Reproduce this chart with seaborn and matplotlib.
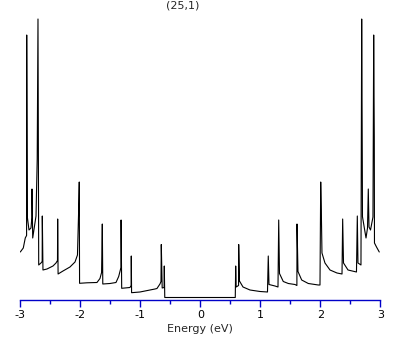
"""Density of states of a (25,1) nanotube, redrawn with seaborn."""

import matplotlib
matplotlib.use("Agg")
import matplotlib.pyplot as plt
import numpy as np
import pandas as pd
import seaborn as sns
from matplotlib.ticker import MultipleLocator

# values (arbitrary DOS units)
energy_neg = [-3.000, -2.950, -2.917, -2.895, -2.893, -2.883, -2.855, -2.822,
              -2.807, -2.805, -2.793, -2.738, -2.718, -2.705, -2.693, -2.655,
              -2.635, -2.633, -2.622, -2.555, -2.455, -2.405, -2.380, -2.377,
              -2.370, -2.288, -2.172, -2.088, -2.047, -2.027, -2.017, -2.012,
              -1.888, -1.722, -1.672, -1.645, -1.633, -1.625, -1.505, -1.405,
              -1.360, -1.322, -1.320, -1.310, -1.172, -1.152, -1.150, -1.145,
              -1.005, -0.838, -0.755, -0.722, -0.672, -0.655, -0.650, -0.635,
              -0.603, -0.600, -0.592]
dos_neg = [0.455, 0.495, 0.595, 0.620, 2.625, 0.808, 0.675, 0.695,
           0.800, 1.085, 0.595, 0.815, 1.385, 2.785, 0.325, 0.345,
           0.360, 0.815, 0.275, 0.285, 0.315, 0.345, 0.370, 0.785,
           0.235, 0.265, 0.305, 0.355, 0.425, 0.875, 1.155, 0.142,
           0.147, 0.150, 0.190, 0.250, 0.735, 0.135, 0.140, 0.150,
           0.210, 0.300, 0.775, 0.092, 0.100, 0.120, 0.415, 0.048,
           0.055, 0.075, 0.085, 0.090, 0.135, 0.160, 0.530, 0.095,
           0.100, 0.315, 0.000]

energy_pos = [0.583, 0.590, 0.598, 0.638, 0.640, 0.653, 0.712, 0.828,
              0.995, 1.120, 1.133, 1.145, 1.245, 1.295, 1.307, 1.320,
              1.383, 1.467, 1.578, 1.610, 1.612, 1.628, 1.690, 1.800,
              1.967, 1.995, 2.007, 2.017, 2.028, 2.078, 2.162, 2.278,
              2.362, 2.373, 2.387, 2.462, 2.603, 2.617, 2.628, 2.678,
              2.690, 2.700, 2.703, 2.762, 2.787, 2.800, 2.812, 2.837,
              2.878, 2.890, 2.900, 2.903, 2.937, 2.983]
dos_pos = [0.000, 0.315, 0.105, 0.120, 0.530, 0.165, 0.105, 0.075,
           0.060, 0.055, 0.415, 0.130, 0.115, 0.105, 0.775, 0.240,
           0.160, 0.140, 0.130, 0.120, 0.735, 0.260, 0.175, 0.140,
           0.125, 0.125, 1.155, 0.875, 0.445, 0.345, 0.275, 0.245,
           0.235, 0.785, 0.345, 0.275, 0.255, 0.815, 0.345, 0.325,
           2.785, 1.385, 0.808, 0.595, 0.695, 1.085, 0.705, 0.675,
           0.805, 2.625, 1.605, 0.545, 0.505, 0.455]

title = "(25,1)"
xlabel = "Energy (eV)"
xticks = [-3, -2, -1, 0, 1, 2, 3]

df = pd.DataFrame({"energy": energy_neg + energy_pos,
                   "dos": dos_neg + dos_pos})

sns.set_theme(style="white")
plt.rcParams.update({"font.family": ["DejaVu Sans"], "axes.unicode_minus": False})

axis_blue = "#0000C8"

fig = plt.figure(figsize=(4.09, 3.45), dpi=100)
ax = fig.add_axes([0.0496, 0.129, 0.8802, 0.8275])

sns.lineplot(data=df, x="energy", y="dos", estimator=None, sort=False,
             color="black", lw=0.8, ax=ax)

ax.set_xlim(-3, 3)
ax.set_ylim(-0.03, 2.825)
ax.set_xticks(xticks)
ax.set_xticklabels([str(t) for t in xticks])
ax.xaxis.set_minor_locator(MultipleLocator(0.5))
ax.set_yticks([])
ax.set_ylabel("")
ax.set_xlabel(xlabel, fontsize=8, labelpad=3)

for side in ["left", "right", "top"]:
    ax.spines[side].set_visible(False)
ax.spines["bottom"].set_color(axis_blue)
ax.spines["bottom"].set_linewidth(1.0)

ax.tick_params(axis="x", which="major", direction="out", length=5, width=1,
               color=axis_blue, labelcolor="black", labelsize=8, pad=2, bottom=True)
ax.tick_params(axis="x", which="minor", direction="out", length=3.2, width=1,
               color=axis_blue, bottom=True)

fig.text(183 / 409, 1 - 6 / 345, title, ha="center", va="center", fontsize=8)

fig.savefig("out.png", dpi=100)
